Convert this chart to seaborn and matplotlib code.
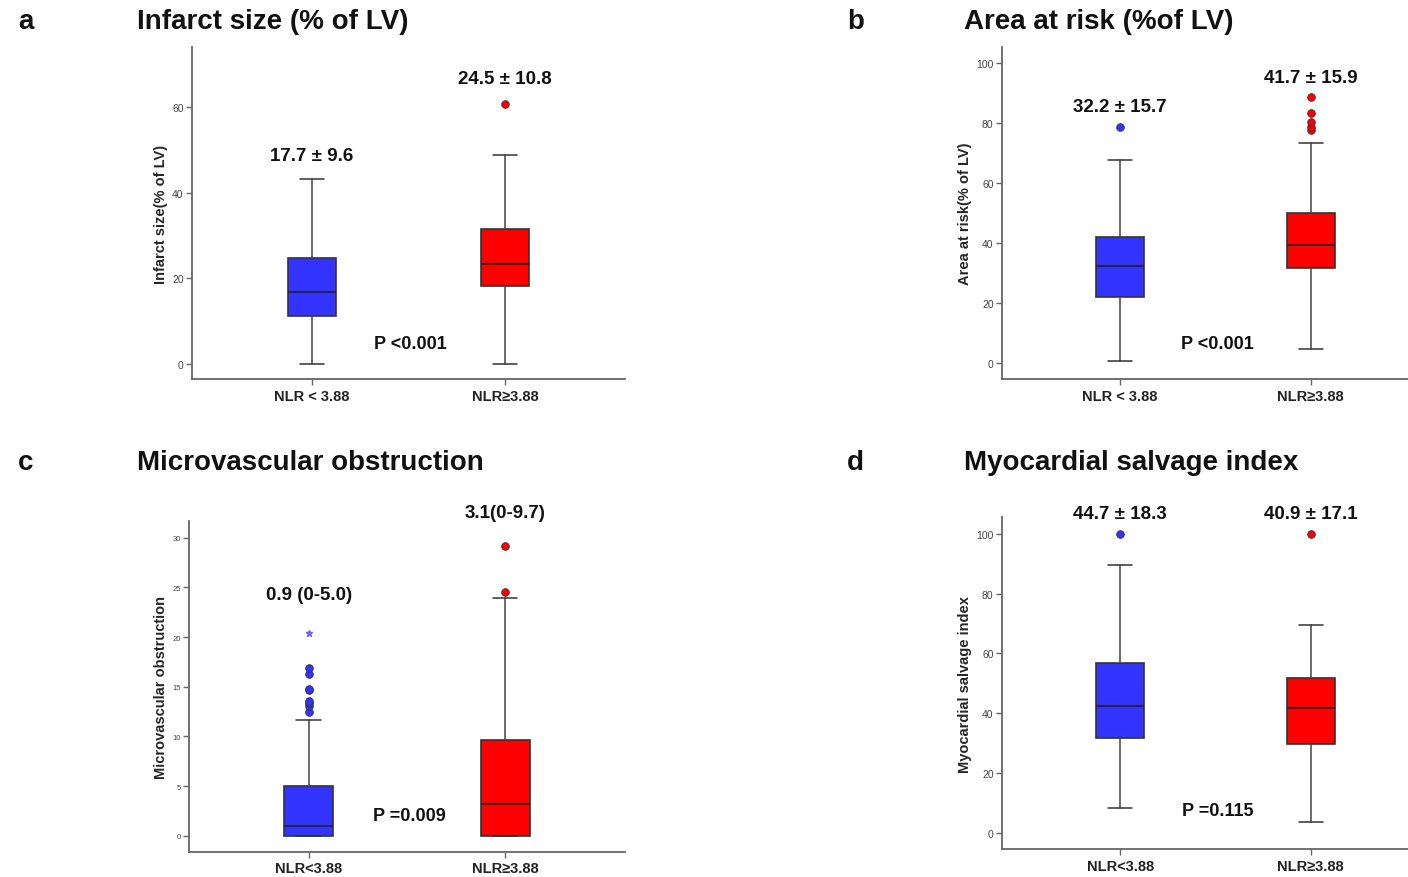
import matplotlib
matplotlib.use("Agg")
import matplotlib.pyplot as plt
import seaborn as sns

# box stats per group: [whisker low, q1, median, q3, whisker high]
groups_top = ["NLR < 3.88", "NLR\u22653.88"]
groups_bottom = ["NLR<3.88", "NLR\u22653.88"]

infarct_stats = [[0.0, 11.1, 16.7, 24.7, 43.3], [0.0, 18.1, 23.4, 31.5, 48.8]]
infarct_fliers = [[], [60.7]]
infarct_labels = ["17.7 \u00b1 9.6", "24.5 \u00b1 10.8"]

risk_stats = [[0.7, 22.0, 32.2, 42.2, 67.6], [4.7, 31.8, 39.2, 50.2, 73.3]]
risk_fliers = [[78.9], [77.8, 78.9, 80.3, 83.6, 88.9]]
risk_labels = ["32.2 \u00b1 15.7", "41.7 \u00b1 15.9"]

mvo_stats = [[0.0, 0.0, 0.94, 4.97, 11.7], [0.0, 0.0, 3.19, 9.63, 23.9]]
mvo_fliers = [[12.5, 13.1, 13.4, 13.6, 14.7, 14.8, 16.3, 16.9], [24.5, 29.2]]
mvo_extremes = [[20.4], []]
mvo_labels = ["0.9 (0-5.0)", "3.1(0-9.7)"]

salvage_stats = [[8.2, 31.6, 42.4, 56.9, 89.4], [3.6, 29.7, 41.8, 51.6, 69.4]]
salvage_fliers = [[100.0], [100.0]]
salvage_labels = ["44.7 \u00b1 18.3", "40.9 \u00b1 17.1"]

sns.set_style("ticks")
plt.rcParams['font.family'] = ['Liberation Sans', 'DejaVu Sans']

colors = ['#3333ff', '#ff0000']
spine_col = '#666666'

fig = plt.figure(figsize=(14.08, 8.78), dpi=100)


def draw_panel(rect, stats, fliers, groups, labels, label_y, ylim, xlim, yticks,
               tick_fs, ylabel, pval, p_y, letter, title, title_y, extremes=None):
    ax = fig.add_axes(rect)
    bx = []
    for i, s in enumerate(stats):
        bx.append(dict(whislo=s[0], q1=s[1], med=s[2], q3=s[3], whishi=s[4],
                       fliers=fliers[i]))
    res = ax.bxp(bx, positions=[0, 1], widths=0.25, patch_artist=True,
                 boxprops=dict(edgecolor='#333333', linewidth=1.2),
                 medianprops=dict(color='#222222', linewidth=1.2),
                 whiskerprops=dict(color='#444444', linewidth=1.1),
                 capprops=dict(color='#333333', linewidth=1.1),
                 flierprops=dict(marker='o', markersize=5.5, markeredgecolor='#333333',
                                 markeredgewidth=0.6, linestyle='none'))
    for i, b in enumerate(res['boxes']):
        b.set_facecolor(colors[i])
    for i, f in enumerate(res['fliers']):
        f.set_markerfacecolor(colors[i])
    if extremes is not None:
        for i, ex in enumerate(extremes):
            if ex:
                ax.plot([i] * len(ex), ex, linestyle='none', marker='*',
                        markersize=5, color='#6666ff')
    ax.set_ylim(*ylim)
    ax.set_xlim(*xlim)
    ax.set_yticks(yticks)
    ax.set_yticklabels([str(t) for t in yticks], fontsize=tick_fs, color='#444444')
    ax.set_xticks([0, 1])
    ax.set_xticklabels(groups, fontsize=10.5, fontweight='bold', color='#222222')
    ax.set_ylabel(ylabel, fontsize=10.5, fontweight='bold', labelpad=3)
    sns.despine(ax=ax)
    for sp in ['left', 'bottom']:
        ax.spines[sp].set_color(spine_col)
        ax.spines[sp].set_linewidth(1.3)
    ax.tick_params(axis='both', colors=spine_col, length=4, width=1)
    ax.tick_params(axis='y', labelcolor='#444444', pad=2)
    ax.tick_params(axis='x', labelcolor='#222222', pad=3)
    for i, t in enumerate(labels):
        ax.text(i, label_y[i], t, ha='center', va='center', fontsize=13.5,
                fontweight='bold', color='#111111', clip_on=False)
    ax.text(0.51, p_y, pval, ha='center', va='center', fontsize=13,
            fontweight='bold', color='#111111')
    fig.text(18 / 1408 if rect[0] < 0.5 else 847 / 1408, title_y, letter,
             fontsize=20, fontweight='bold', ha='left', va='center', color='#111111')
    fig.text(137 / 1408 if rect[0] < 0.5 else 964 / 1408, title_y, title,
             fontsize=20, fontweight='bold', ha='left', va='center', color='#111111')
    return ax


draw_panel([0.1364, 0.5672, 0.3075, 0.3781], infarct_stats, infarct_fliers, groups_top,
           infarct_labels, [48.6, 66.6], (-3.5, 74), (-0.62, 1.62), [0, 20, 40, 60], 7.5,
           'Infarct size(% of LV)', 'P <0.001', 4.7, 'a', 'Infarct size (% of LV)',
           1 - 22 / 878)
draw_panel([0.7116, 0.5672, 0.2884, 0.3781], risk_stats, risk_fliers, groups_top,
           risk_labels, [85.5, 95.2], (-5.4, 105.5), (-0.62, 1.51), [0, 20, 40, 60, 80, 100], 7.5,
           'Area at risk(% of LV)', 'P <0.001', 6.4, 'b', 'Area at risk (%of LV)',
           1 - 22 / 878)
draw_panel([0.1342, 0.0288, 0.3097, 0.377], mvo_stats, mvo_fliers, groups_bottom,
           mvo_labels, [24.3, 32.5], (-1.6, 31.7), (-0.61, 1.61), [0, 5, 10, 15, 20, 25, 30], 5.5,
           'Microvascular obstruction', 'P =0.009', 2.0, 'c', 'Microvascular obstruction',
           1 - 463 / 878, extremes=mvo_extremes)
draw_panel([0.7116, 0.0319, 0.2884, 0.3778], salvage_stats, salvage_fliers, groups_bottom,
           salvage_labels, [106.9, 106.9], (-5.45, 105.5), (-0.62, 1.51), [0, 20, 40, 60, 80, 100], 7.5,
           'Myocardial salvage index', 'P =0.115', 7.3, 'd', 'Myocardial salvage index',
           1 - 463 / 878)

fig.savefig('out.png', dpi=100)
